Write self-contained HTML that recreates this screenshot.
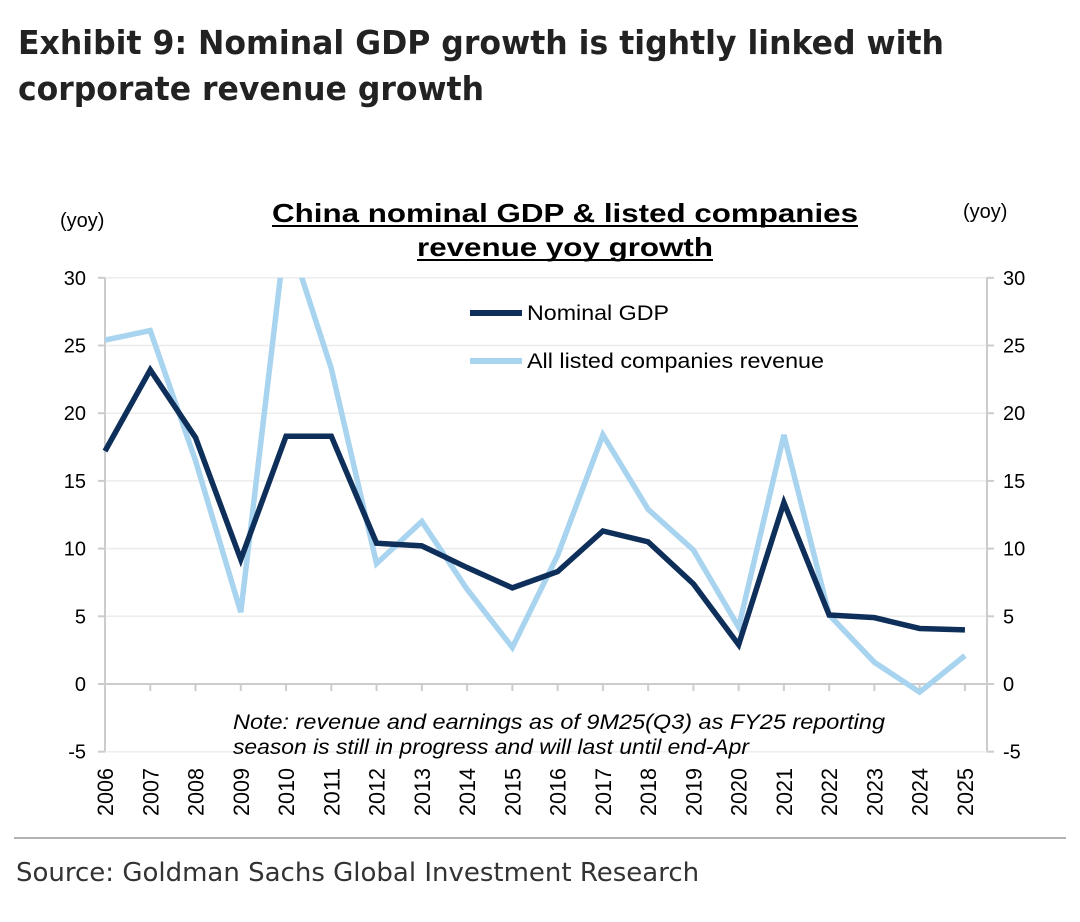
<!DOCTYPE html>
<html><head><meta charset="utf-8"><style>
body{margin:0;background:#fff;width:1080px;height:917px;overflow:hidden;font-family:"Liberation Sans",Arial,sans-serif}
</style></head><body>
<svg width="1080" height="917" viewBox="0 0 1080 917" font-family="Liberation Sans, Arial, sans-serif">
<text x="18" y="54" font-size="33" font-weight="bold" fill="#222" font-family="DejaVu Sans, sans-serif" textLength="926" lengthAdjust="spacingAndGlyphs">Exhibit 9: Nominal GDP growth is tightly linked with</text>
<text x="18" y="100" font-size="33" font-weight="bold" fill="#222" font-family="DejaVu Sans, sans-serif" textLength="466" lengthAdjust="spacingAndGlyphs">corporate revenue growth</text>
<text x="272" y="222" font-size="26" font-weight="bold" fill="#000" textLength="586" lengthAdjust="spacingAndGlyphs">China nominal GDP &amp; listed companies</text>
<text x="417" y="256" font-size="26" font-weight="bold" fill="#000" textLength="296" lengthAdjust="spacingAndGlyphs">revenue yoy growth</text>
<line x1="272" y1="226" x2="858" y2="226" stroke="#000" stroke-width="2"/>
<line x1="417" y1="260" x2="713" y2="260" stroke="#000" stroke-width="2"/>
<text x="60" y="227" font-size="20" fill="#000">(yoy)</text>
<text x="963" y="218" font-size="20" fill="#000">(yoy)</text>
<g id="grid"></g><g id="axes"></g><g id="lines"></g>
<g>
<line x1="470" y1="313" x2="522" y2="313" stroke="#0e2f5a" stroke-width="6"/>
<text x="527" y="320" font-size="21" textLength="142" lengthAdjust="spacingAndGlyphs">Nominal GDP</text>
<line x1="470" y1="361" x2="522" y2="361" stroke="#a8d4ef" stroke-width="6"/>
<text x="527" y="368" font-size="21" textLength="297" lengthAdjust="spacingAndGlyphs">All listed companies revenue</text>
</g>
<text x="233" y="729" font-size="21" font-style="italic" textLength="652" lengthAdjust="spacingAndGlyphs">Note: revenue and earnings as of 9M25(Q3) as FY25 reporting</text>
<text x="233" y="754" font-size="21" font-style="italic" textLength="516" lengthAdjust="spacingAndGlyphs">season is still in progress and will last until end-Apr</text>
<line x1="14" y1="838" x2="1066" y2="838" stroke="#999" stroke-width="1.5"/>
<text x="16" y="881" font-size="26" fill="#333" font-family="DejaVu Sans, sans-serif">Source: Goldman Sachs Global Investment Research</text>
</svg>
<script>
const years=[2006,2007,2008,2009,2010,2011,2012,2013,2014,2015,2016,2017,2018,2019,2020,2021,2022,2023,2024,2025];
const gdp=[17.2,23.2,18.2,9.2,18.3,18.3,10.4,10.2,8.6,7.1,8.3,11.3,10.5,7.4,2.9,13.4,5.1,4.9,4.1,4.0];
const revenue=[25.4,26.1,16.5,5.3,33.6,23.3,8.9,12.0,7.0,2.7,9.5,18.4,12.9,9.9,4.2,18.4,5.1,1.6,-0.6,2.1];
const yTicks=[-5,0,5,10,15,20,25,30];
const NS="http://www.w3.org/2000/svg";
const x=i=>105+i*45.26;
const y=v=>684-v*13.54;
function mk(t,a,p){const e=document.createElementNS(NS,t);for(const k in a)e.setAttribute(k,a[k]);p.appendChild(e);return e;}
const grid=document.getElementById('grid'),axes=document.getElementById('axes'),lines=document.getElementById('lines');
yTicks.forEach(v=>{
 if(v>0){const g=mk('line',{x1:105,x2:987,y1:y(v),y2:y(v),stroke:'#ececec','stroke-width':1.5},grid);
 
 }
 const l=mk('text',{x:86,y:y(v)+7,'text-anchor':'end','font-size':20},axes);l.textContent=v;
 
 
 const r=mk('text',{x:1003,y:y(v)+7,'font-size':20},axes);r.textContent=v;
 
 
 mk('line',{x1:98,x2:105,y1:y(v),y2:y(v),stroke:'#ccc','stroke-width':2},axes);
 mk('line',{x1:987,x2:994,y1:y(v),y2:y(v),stroke:'#ccc','stroke-width':2},axes);
});
mk('line',{x1:105,x2:105,y1:y(30),y2:y(-5),stroke:'#ccc','stroke-width':2},axes);
mk('line',{x1:987,x2:987,y1:y(30),y2:y(-5),stroke:'#ccc','stroke-width':2},axes);
mk('line',{x1:105,x2:987,y1:y(-5),y2:y(-5),stroke:'#eee','stroke-width':1.5},axes);
mk('line',{x1:105,x2:987,y1:y(0),y2:y(0),stroke:'#ccc','stroke-width':2},axes);
years.forEach((yr,i)=>{
 mk('line',{x1:x(i),x2:x(i),y1:y(0),y2:y(0)+7,stroke:'#ccc','stroke-width':2},axes);
 const t=mk('text',{transform:`translate(${x(i)+8},816) rotate(-90)`,'font-size':22,textLength:48,lengthAdjust:'spacingAndGlyphs'},axes);t.textContent=yr;
 
 
});
const cp=mk('clipPath',{id:'cp'},lines);mk('rect',{x:100,y:y(30),width:900,height:y(-5)-y(30)+10},cp);
const rp=mk('polyline',{points:revenue.map((v,i)=>x(i)+','+y(v)).join(' '),fill:'none',stroke:'#a8d4ef','stroke-width':5.5,'clip-path':'url(#cp)','stroke-linejoin':'miter'},lines);


const gp=mk('polyline',{points:gdp.map((v,i)=>x(i)+','+y(v)).join(' '),fill:'none',stroke:'#0e2f5a','stroke-width':5.5,'stroke-linejoin':'miter'},lines);


</script>
</body></html>
